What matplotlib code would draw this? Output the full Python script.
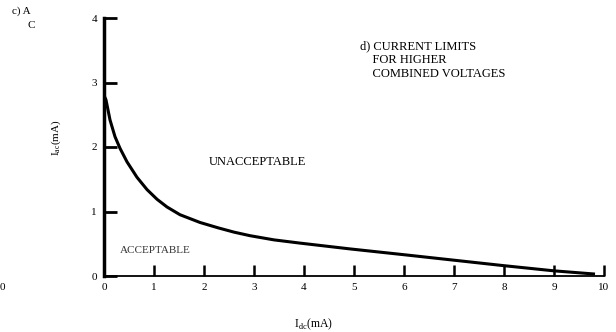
import matplotlib
matplotlib.use("Agg")
import matplotlib.pyplot as plt

plt.rcParams['font.family'] = ['Liberation Serif', 'DejaVu Serif']
plt.rcParams['mathtext.fontset'] = 'custom'
plt.rcParams['mathtext.rm'] = 'Liberation Serif'

# data
i_dc = [0.0, 0.04, 0.12, 0.22, 0.32, 0.46, 0.66, 0.86, 1.06, 1.26, 1.52,
        1.92, 2.29, 2.6, 2.92, 3.4, 3.92, 4.92, 6.0, 7.0, 8.0, 9.0, 9.82]
i_ac = [2.8, 2.73, 2.42, 2.16, 1.98, 1.77, 1.53, 1.34, 1.19, 1.07, 0.95,
        0.83, 0.745, 0.68, 0.625, 0.56, 0.51, 0.42, 0.33, 0.245, 0.16, 0.08, 0.03]
x_ticks = [0, 1, 2, 3, 4, 5, 6, 7, 8, 9, 10]
y_ticks = [0, 1, 2, 3, 4]

fig = plt.figure(figsize=(6.16, 3.32), dpi=100)
x0, x1, y0, y1 = 104, 604, 276, 18
ax = fig.add_axes([x0/616, 1-y0/332, (x1-x0)/616, (y0-y1)/332])
ax.plot(i_dc, i_ac, color='black', lw=2.2, solid_capstyle='butt',
        solid_joinstyle='round')
ax.set_xlim(0, 10)
ax.set_ylim(0, 4)
ax.set_xticks(x_ticks)
ax.set_yticks(y_ticks)
for s in ['top', 'right']:
    ax.spines[s].set_visible(False)
ax.spines['left'].set_linewidth(2.5)
ax.spines['bottom'].set_linewidth(1.3)
ax.tick_params(axis='y', direction='in', length=9, width=2, pad=5, labelsize=8)
ax.tick_params(axis='x', direction='in', length=8, width=1.8, pad=5, labelsize=8)

fig.text(56/616, 1-138/332, r'I$_{\rm ac}$(mA)', fontsize=8, rotation=90,
         ha='center', va='center')
fig.text(313/616, 1-324/332, r'I$_{\rm dc}$(mA)', fontsize=8.5, ha='center', va='center')

ax.text(3.06, 1.76, 'UNACCEPTABLE', fontsize=9, ha='center', va='center')
ax.text(1.02, 0.39, 'ACCEPTABLE', fontsize=8, ha='center', va='center', color='#333333')
ax.text(5.12, 3.66, 'd) CURRENT LIMITS\n    FOR HIGHER\n    COMBINED VOLTAGES',
        fontsize=9, ha='left', va='top', linespacing=1.2)

fig.text(12/616, 1-11/332, 'c) A', fontsize=8, ha='left', va='center')
fig.text(28/616, 1-25/332, 'C', fontsize=8, ha='left', va='center')
fig.text(0/616, 1-287/332, '0', fontsize=8, ha='left', va='center')

fig.savefig('out.png', dpi=100)
